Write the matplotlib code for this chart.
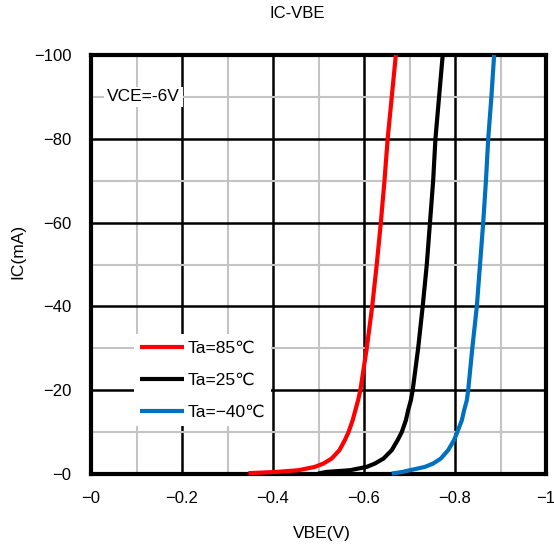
import matplotlib
matplotlib.use("Agg")
import matplotlib.pyplot as plt
from matplotlib.ticker import MultipleLocator, FuncFormatter

plt.rcParams['font.family'] = ['Liberation Sans', 'DejaVu Sans']

# IC-VBE characteristics (VCE = -6 V) at three ambient temperatures
vbe_85 = [-0.346, -0.408, -0.456, -0.492, -0.511, -0.529, -0.546, -0.558, -0.566,
          -0.575, -0.581, -0.587, -0.592, -0.606, -0.618, -0.628, -0.637, -0.645,
          -0.652, -0.661, -0.670]
ic_85 = [-0.2, -0.5, -0.9, -1.7, -2.5, -3.7, -5.7, -8.1, -10,
         -12.8, -15.2, -17.6, -20, -30, -40, -50, -60, -70,
         -80, -90, -100]

vbe_25 = [-0.499, -0.518, -0.569, -0.606, -0.624, -0.643, -0.661, -0.674, -0.683,
          -0.692, -0.697, -0.703, -0.707, -0.719, -0.729, -0.738, -0.745, -0.752,
          -0.757, -0.765, -0.773]
ic_25 = [-0.1, -0.5, -0.9, -1.7, -2.5, -3.7, -5.7, -8.1, -10,
         -12.8, -15.2, -17.6, -20, -30, -40, -50, -60, -70,
         -80, -90, -100]

vbe_m40 = [-0.661, -0.685, -0.701, -0.734, -0.752, -0.769, -0.785, -0.798, -0.805,
           -0.815, -0.820, -0.826, -0.829, -0.838, -0.848, -0.855, -0.862, -0.868,
           -0.873, -0.880, -0.886]
ic_m40 = [-0.1, -0.5, -0.9, -1.7, -2.5, -3.7, -5.7, -8.1, -10,
          -12.8, -15.2, -17.6, -20, -30, -40, -50, -60, -70,
          -80, -90, -100]

series_labels = ['Ta=85℃', 'Ta=25℃', 'Ta=−40℃']
series_colors = ['#ff0000', '#000000', '#0070c0']

fig = plt.figure(figsize=(5.54, 5.47), dpi=100)
ax = fig.add_axes([91 / 554, 1 - 474 / 547, 455 / 554, 419 / 547])

ax.set_xlim(0, -1)
ax.set_ylim(0, -100)

ax.xaxis.set_major_locator(MultipleLocator(0.2))
ax.xaxis.set_minor_locator(MultipleLocator(0.1))
ax.yaxis.set_major_locator(MultipleLocator(20))
ax.yaxis.set_minor_locator(MultipleLocator(10))


def neg_fmt(v, pos):
    a = abs(v)
    if abs(a - round(a)) < 1e-9:
        s = f"{int(round(a))}"
    else:
        s = f"{a:.1f}"
    return "−" + s


ax.xaxis.set_major_formatter(FuncFormatter(neg_fmt))
ax.yaxis.set_major_formatter(FuncFormatter(neg_fmt))

ax.grid(which='minor', color='#c4c4c4', linewidth=1.5, zorder=0)
ax.grid(which='major', color='#000000', linewidth=1.8, zorder=0.5)
ax.set_axisbelow(True)
ax.tick_params(which='both', length=0, labelsize=12)
ax.tick_params(axis='x', pad=12)
ax.tick_params(axis='y', pad=14)

for sp in ax.spines.values():
    sp.set_linewidth(3)
    sp.set_zorder(2.5)

lines = []
for vx, iy, lab, col in zip([vbe_85, vbe_25, vbe_m40], [ic_85, ic_25, ic_m40],
                            series_labels, series_colors):
    ln, = ax.plot(vx, iy, color=col, linewidth=3, label=lab,
                  solid_capstyle='butt', solid_joinstyle='round',
                  zorder=3, clip_on=False)
    lines.append(ln)

leg = ax.legend(handles=lines, loc='upper left', bbox_to_anchor=(0.095, 0.333),
                frameon=True, fancybox=False, edgecolor='none', facecolor='white',
                framealpha=1, fontsize=12.5, handlelength=2.5, handletextpad=0.2,
                labelspacing=0.98, borderpad=0.35, borderaxespad=0)
for lh in leg.get_lines():
    lh.set_linewidth(3)

ax.text(0.035, 0.9, 'VCE=-6V', transform=ax.transAxes, fontsize=12.5,
        ha='left', va='center',
        bbox=dict(facecolor='white', edgecolor='none', pad=2))

fig.text(297 / 554, 1 - 14 / 547, 'IC-VBE', ha='center', va='center', fontsize=12)
ax.set_xlabel('VBE(V)', fontsize=12.5, va='center')
ax.set_ylabel('IC(mA)', fontsize=12.5, va='center')
ax.xaxis.set_label_coords(0.507, -0.143)
ax.yaxis.set_label_coords(-0.160, 0.53)

fig.savefig('out.png', dpi=100)
